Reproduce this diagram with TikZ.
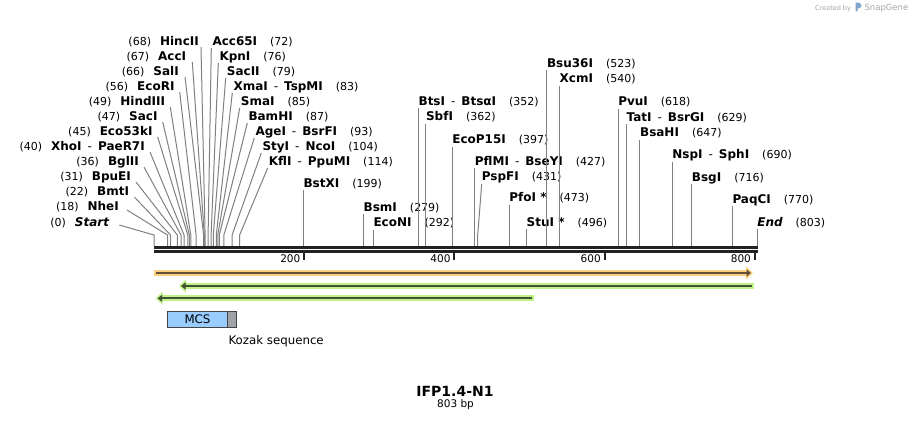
\documentclass[tikz,border=0pt]{standalone}
\usepackage{fontspec}
\setmainfont{DejaVu Sans}
\usetikzlibrary{positioning, arrows.meta}
\definecolor{dna}{RGB}{34,34,34}
\definecolor{cutgray}{RGB}{128,128,128}
\definecolor{orangeband}{RGB}{253,208,125}
\definecolor{orangecore}{RGB}{95,80,55}
\definecolor{greenband}{RGB}{190,242,135}
\definecolor{greencore}{RGB}{65,80,55}
\definecolor{mcsblue}{RGB}{153,204,255}
\definecolor{kozakgray}{RGB}{160,162,170}
\definecolor{boxedge}{RGB}{68,68,68}
\definecolor{wmgray}{RGB}{165,165,165}
\definecolor{wmblue}{RGB}{130,165,205}
\newcommand{\enz}[1]{{\fontsize{12}{14}\selectfont\bfseries #1}}
\newcommand{\loc}[1]{{\fontsize{11}{13}\selectfont(#1)}}
\newcommand{\enzr}[2]{\enz{#1}\hspace{13pt}\loc{#2}}
\newcommand{\enzl}[2]{\loc{#1}\hspace{9pt}\enz{#2}}
\newcommand{\orsep}{\enspace{\mdseries-}\enspace}
\tikzstyle{leftlab} = [anchor=base east, inner sep=0pt]
\tikzstyle{rightlab} = [anchor=base west, inner sep=0pt]
\tikzstyle{cutline} = [draw=cutgray, line width=1pt]
\tikzstyle{backbone} = [draw=dna, line width=3pt]
\tikzstyle{ruler} = [draw=dna, line width=2pt]
\tikzstyle{rulerlab} = [anchor=base east, inner sep=0pt, font=\fontsize{10.5}{12}\selectfont]
\tikzstyle{band} = [line width=6pt, -{Triangle[length=7pt,width=13pt]}]
\tikzstyle{core} = [line width=2pt, -{Triangle[length=4.5pt,width=7pt]}]
\tikzstyle{feat} = [draw=boxedge, line width=0.8pt, minimum height=16.3pt, inner sep=0pt, outer sep=0pt, font=\fontsize{11.8}{13}\selectfont]
\begin{document}
\begin{tikzpicture}[x=1pt, y=-1pt]
\useasboundingbox (0,0) rectangle (912,422);

% sites on the backbone
\coordinate (p0) at (154,246);
\coordinate (p18) at (167.5,246);
\coordinate (p22) at (170.5,246);
\coordinate (p31) at (177.3,246);
\coordinate (p36) at (181.0,246);
\coordinate (p40) at (184.0,246);
\coordinate (p45) at (187.8,246);
\coordinate (p47) at (189.3,246);
\coordinate (p49) at (190.8,246);
\coordinate (p56) at (196.1,246);
\coordinate (p66) at (203.6,246);
\coordinate (p67) at (204.3,246);
\coordinate (p68) at (205.1,246);
\coordinate (p72) at (208.1,246);
\coordinate (p76) at (211.1,246);
\coordinate (p79) at (213.3,246);
\coordinate (p83) at (216.3,246);
\coordinate (p85) at (217.8,246);
\coordinate (p87) at (219.3,246);
\coordinate (p93) at (223.8,246);
\coordinate (p104) at (232.1,246);
\coordinate (p114) at (239.6,246);
\coordinate (p199) at (303.4,246);
\coordinate (p279) at (363.5,246);
\coordinate (p292) at (373.3,246);
\coordinate (p352) at (418.4,246);
\coordinate (p362) at (425.9,246);
\coordinate (p397) at (452.1,246);
\coordinate (p427) at (474.7,246);
\coordinate (p431) at (477.7,246);
\coordinate (p473) at (509.2,246);
\coordinate (p496) at (526.5,246);
\coordinate (p523) at (546.8,246);
\coordinate (p540) at (559.5,246);
\coordinate (p618) at (618.1,246);
\coordinate (p629) at (626.4,246);
\coordinate (p647) at (639.9,246);
\coordinate (p690) at (672.2,246);
\coordinate (p716) at (691.7,246);
\coordinate (p770) at (732.3,246);
\coordinate (p803) at (757.1,246);

% left fan
\node[leftlab] (hincII) at (199,46) {\enzl{68}{HincII}};
\node[leftlab] (accI) at (186.3,61) {\enzl{67}{AccI}};
\node[leftlab] (salI) at (179,76) {\enzl{66}{SalI}};
\node[leftlab] (ecoRI) at (174.7,91) {\enzl{56}{EcoRI}};
\node[leftlab] (hindIII) at (165.3,106) {\enzl{49}{HindIII}};
\node[leftlab] (sacI) at (157.7,121) {\enzl{47}{SacI}};
\node[leftlab] (eco53kI) at (152.7,136) {\enzl{45}{Eco53kI}};
\node[leftlab] (xhoI) at (145,151) {\enzl{40}{XhoI\orsep PaeR7I}};
\node[leftlab] (bglII) at (139,166) {\enzl{36}{BglII}};
\node[leftlab] (bpuEI) at (131,181) {\enzl{31}{BpuEI}};
\node[leftlab] (bmtI) at (129.3,196) {\enzl{22}{BmtI}};
\node[leftlab] (nheI) at (119,211) {\enzl{18}{NheI}};
\node[leftlab] (startlab) at (109.3,226) {\enzl{0}{\itshape Start}};

\node[rightlab] (acc65I) at (212.3,46) {\enzr{Acc65I}{72}};
\node[rightlab] (kpnI) at (219.3,61) {\enzr{KpnI}{76}};
\node[rightlab] (sacII) at (226.7,76) {\enzr{SacII}{79}};
\node[rightlab] (xmaI) at (233.3,91) {\enzr{XmaI\orsep TspMI}{83}};
\node[rightlab] (smaI) at (240.7,106) {\enzr{SmaI}{85}};
\node[rightlab] (bamHI) at (248.3,121) {\enzr{BamHI}{87}};
\node[rightlab] (ageI) at (255.3,136) {\enzr{AgeI\orsep BsrFI}{93}};
\node[rightlab] (styI) at (262.3,151) {\enzr{StyI\orsep NcoI}{104}};
\node[rightlab] (kflI) at (268.7,166) {\enzr{KflI\orsep PpuMI}{114}};

% single sites along the map
\node[rightlab] (bstXI) at (303.4,187) {\enzr{BstXI}{199}};
\node[rightlab] (bsmI) at (363.5,211.3) {\enzr{BsmI}{279}};
\node[rightlab] (ecoNI) at (373.3,226.7) {\enzr{EcoNI}{292}};
\node[rightlab] (btsI) at (418.4,105.5) {\enzr{BtsI\orsep Bts\char"03B1 I}{352}};
\node[rightlab] (sbfI) at (425.9,120.7) {\enzr{SbfI}{362}};
\node[rightlab] (ecoP15I) at (452.1,144) {\enzr{EcoP15I}{397}};
\node[rightlab] (pflMI) at (474.7,165.5) {\enzr{PflMI\orsep BseYI}{427}};
\node[rightlab] (pspFI) at (481.7,181) {\enzr{PspFI}{431}};
\node[rightlab] (pfoI) at (509.2,201.7) {\enzr{PfoI *}{473}};
\node[rightlab] (stuI) at (526.5,226) {\enzr{StuI *}{496}};
\node[rightlab] (bsu36I) at (546.8,67.5) {\enzr{Bsu36I}{523}};
\node[rightlab] (xcmI) at (559.5,82.7) {\enzr{XcmI}{540}};
\node[rightlab] (pvuI) at (618.1,106) {\enzr{PvuI}{618}};
\node[rightlab] (tatI) at (626.4,121.3) {\enzr{TatI\orsep BsrGI}{629}};
\node[rightlab] (bsaHI) at (639.9,136.7) {\enzr{BsaHI}{647}};
\node[rightlab] (nspI) at (672.2,158.7) {\enzr{NspI\orsep SphI}{690}};
\node[rightlab] (bsgI) at (691.7,181.3) {\enzr{BsgI}{716}};
\node[rightlab] (paqCI) at (732.3,203.3) {\enzr{PaqCI}{770}};
\node[rightlab] (endlab) at (757.1,226) {\enzr{\itshape End}{803}};

% connectors
\draw[cutline] (hincII.base east) ++(2pt,-1pt) -- ([yshift=11pt]p68) -- (p68);
\draw[cutline] (accI.base east) ++(6pt,-1pt) -- ([yshift=11pt]p67) -- (p67);
\draw[cutline] (salI.base east) ++(6pt,-1pt) -- ([yshift=11pt]p66) -- (p66);
\draw[cutline] (ecoRI.base east) ++(5pt,-1pt) -- ([yshift=11pt]p56) -- (p56);
\draw[cutline] (hindIII.base east) ++(5pt,-1pt) -- ([yshift=11pt]p49) -- (p49);
\draw[cutline] (sacI.base east) ++(5pt,-1pt) -- ([yshift=11pt]p47) -- (p47);
\draw[cutline] (eco53kI.base east) ++(5pt,-1pt) -- ([yshift=11pt]p45) -- (p45);
\draw[cutline] (xhoI.base east) ++(5pt,-1pt) -- ([yshift=11pt]p40) -- (p40);
\draw[cutline] (bglII.base east) ++(5pt,-1pt) -- ([yshift=11pt]p36) -- (p36);
\draw[cutline] (bpuEI.base east) ++(5pt,-1pt) -- ([yshift=11pt]p31) -- (p31);
\draw[cutline] (bmtI.base east) ++(5pt,-1pt) -- ([yshift=11pt]p22) -- (p22);
\draw[cutline] (nheI.base east) ++(8pt,1pt) -- ([yshift=11pt]p18) -- (p18);
\draw[cutline] (startlab.base east) ++(10pt,1pt) -- ([yshift=11pt]p0) -- (p0);

\draw[cutline] (acc65I.base west) ++(-1pt,-2pt) -- ([yshift=11pt]p72) -- (p72);
\draw[cutline] (kpnI.base west) ++(-1pt,-2pt) -- ([yshift=11pt]p76) -- (p76);
\draw[cutline] (sacII.base west) ++(-1pt,-2pt) -- ([yshift=11pt]p79) -- (p79);
\draw[cutline] (xmaI.base west) ++(-1pt,-2pt) -- ([yshift=11pt]p83) -- (p83);
\draw[cutline] (smaI.base west) ++(-1pt,-2pt) -- ([yshift=11pt]p85) -- (p85);
\draw[cutline] (bamHI.base west) ++(-1pt,-2pt) -- ([yshift=11pt]p87) -- (p87);
\draw[cutline] (ageI.base west) ++(-1pt,-2pt) -- ([yshift=11pt]p93) -- (p93);
\draw[cutline] (styI.base west) ++(-1pt,-2pt) -- ([yshift=11pt]p104) -- (p104);
\draw[cutline] (kflI.base west) ++(-1pt,-2pt) -- ([yshift=11pt]p114) -- (p114);

\draw[cutline] (bstXI.base west) ++(0pt,-3pt) -- (p199);
\draw[cutline] (bsmI.base west) ++(0pt,-3pt) -- (p279);
\draw[cutline] (ecoNI.base west) ++(0pt,-3pt) -- (p292);
\draw[cutline] (btsI.base west) ++(0pt,-3pt) -- (p352);
\draw[cutline] (sbfI.base west) ++(0pt,-3pt) -- (p362);
\draw[cutline] (ecoP15I.base west) ++(0pt,-3pt) -- (p397);
\draw[cutline] (pflMI.base west) ++(0pt,-3pt) -- (p427);
\draw[cutline] (pspFI.base west) ++(0pt,-3pt) -- ([yshift=11pt]p431) -- (p431);
\draw[cutline] (pfoI.base west) ++(0pt,-3pt) -- (p473);
\draw[cutline] (stuI.base west) ++(0pt,-3pt) -- (p496);
\draw[cutline] (bsu36I.base west) ++(0pt,-3pt) -- (p523);
\draw[cutline] (xcmI.base west) ++(0pt,-3pt) -- (p540);
\draw[cutline] (pvuI.base west) ++(0pt,-3pt) -- (p618);
\draw[cutline] (tatI.base west) ++(0pt,-3pt) -- (p629);
\draw[cutline] (bsaHI.base west) ++(0pt,-3pt) -- (p647);
\draw[cutline] (nspI.base west) ++(0pt,-3pt) -- (p690);
\draw[cutline] (bsgI.base west) ++(0pt,-3pt) -- (p716);
\draw[cutline] (paqCI.base west) ++(0pt,-3pt) -- (p770);
\draw[cutline] (endlab.base west) ++(0pt,-3pt) -- (p803);

% backbone and ruler
\draw[backbone] (154,247.5) -- (757.7,247.5);
\draw[draw=dna, line width=2.6pt] (154,251.4) -- (757.7,251.4);
\draw[ruler] (304.2,252.7) -- (304.2,259.5);
\draw[ruler] (454.4,252.7) -- (454.4,259.5);
\draw[ruler] (604.6,252.7) -- (604.6,259.5);
\draw[ruler] (754.8,252.7) -- (754.8,259.5);
\node[rulerlab] (r200) at (300.5,262.7) {200};
\node[rulerlab] (r400) at (450.7,262.7) {400};
\node[rulerlab] (r600) at (600.9,262.7) {600};
\node[rulerlab] (r800) at (751.1,262.7) {800};

% features
\draw[band, draw=orangeband] (154,273) -- (753,273);
\draw[core, draw=orangecore] (156,273) -- (751,273);
\draw[band, draw=greenband] (754,286) -- (179,286);
\draw[core, draw=greencore] (752,286) -- (181,286);
\draw[band, draw=greenband] (534.4,298.3) -- (155.7,298.3);
\draw[core, draw=greencore] (532.4,298.3) -- (157.7,298.3);

\node (mcs) [feat, fill=mcsblue, minimum width=60.4pt] at (197.5,319.2) {MCS};
\node (kozak) [feat, fill=kozakgray, minimum width=8.3pt, right=0pt of mcs] {};
\node (kozaklab) [anchor=base west, inner sep=0pt, font=\fontsize{11.8}{13}\selectfont] at (228.3,344.3) {Kozak sequence};

% title
\node (title) [anchor=base, inner sep=0pt, font=\fontsize{14}{16}\selectfont\bfseries] at (455,396) {IFP1.4-N1};
\node (size) [anchor=base, inner sep=0pt, font=\fontsize{10.5}{12}\selectfont] at (455.5,407.3) {803 bp};

% watermark
\node (created) [anchor=base west, inner sep=0pt, text=wmgray, font=\fontsize{6.5}{8}\selectfont] at (815,10.5) {Created by};
\fill[wmblue] (855.5,11.5) -- (855.5,2.5) .. controls (860.5,2.5) and (861.5,4) .. (861.5,6) .. controls (861.5,8) and (859,8.5) .. (857.5,8.5) -- (857.5,11.5) -- cycle;
\node (snapgene) [anchor=base west, inner sep=0pt, text=wmgray, font=\fontsize{8.5}{10}\selectfont] at (864.3,10.5) {SnapGene};
\end{tikzpicture}
\end{document}
